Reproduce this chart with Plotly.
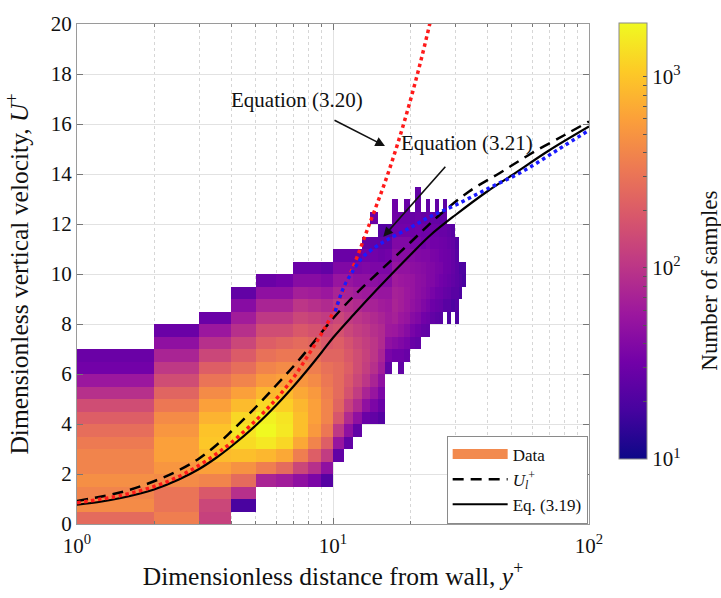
import numpy as np
import plotly.graph_objects as go

# ---------------- data ----------------
# 2-D histogram: x bins (y+) of width 1, U+ bins of width 0.5
x_edges = [1, 2, 3, 4, 5, 6, 7, 8, 9, 10, 11, 12, 13, 14, 15, 16, 17, 18, 19, 20,
           21, 22, 23, 24, 25, 26, 27, 28, 29, 30, 31, 32, 33]
u_edges = [0, 0.5, 1, 1.5, 2, 2.5, 3, 3.5, 4, 4.5, 5, 5.5, 6, 6.5, 7, 7.5, 8, 8.5,
           9, 9.5, 10, 10.5, 11, 11.5, 12, 12.5, 13, 13.5, 14]
# index of the lowest occupied U+ bin in each y+ column
col_start = [0, 0, 0, 1, 3, 3, 3, 3, 3, 5, 6, 7, 8, 8, 8, 12, 13, 12, 13, 14,
             14, 15, 15, 16, 16, 16, 17, 16, 17, 16, 18, 19]
# sample counts per column (from lowest occupied bin upward)
counts = [
    [259, 438, 394, 461, 394, 394, 337, 273, 210, 153, 91, 57, 32, 29],
    [355, 303, 303, 438, 513, 600, 600, 513, 438, 320, 233, 153, 106, 73, 48, 29],
    [124, 138, 189, 394, 600, 867, 1015, 963, 780, 600, 438, 303, 210, 138, 91, 57, 29],
    [19, 91, 259, 487, 914, 1320, 1466, 1253, 867, 600, 394, 273, 199, 138, 91, 63, 43, 26],
    [73, 355, 823, 1545, 1905, 1716, 1253, 823, 540, 394, 288, 210, 153, 106, 73, 48, 29],
    [63, 259, 667, 1253, 1545, 1466, 1127, 867, 600, 438, 320, 233, 153, 106, 73, 48, 32],
    [48, 138, 355, 667, 914, 914, 823, 667, 513, 394, 320, 259, 189, 138, 101, 66, 43, 29],
    [37, 91, 210, 394, 540, 600, 600, 540, 438, 355, 288, 233, 170, 124, 91, 63, 43, 29],
    [22, 48, 112, 210, 320, 394, 394, 355, 320, 288, 233, 189, 153, 112, 82, 57, 39, 26],
    [26, 54, 106, 180, 233, 259, 259, 259, 233, 210, 170, 138, 101, 73, 54, 39, 29],
    [26, 48, 82, 124, 170, 189, 210, 189, 170, 138, 112, 91, 70, 54, 39, 29],
    [26, 48, 82, 112, 138, 153, 153, 138, 118, 101, 82, 63, 48, 37, 29],
    [29, 48, 73, 101, 118, 124, 118, 106, 91, 73, 60, 48, 39, 32, 26],
    [26, 37, 54, 73, 91, 101, 101, 91, 82, 70, 57, 46, 37, 32, 26, 0, 29],
    [22, 29, 37, 48, 63, 73, 82, 82, 73, 63, 54, 43, 37, 30, 26, 22],
    [26, 35, 48, 60, 63, 60, 54, 43, 37, 32, 26, 22],
    [31, 43, 58, 69, 73, 69, 62, 53, 45, 39, 32, 31, 30],
    [26, 31, 39, 50, 58, 65, 65, 58, 50, 43, 39, 32, 30],
    [28, 35, 43, 53, 58, 58, 55, 50, 43, 39, 32, 30, 28],
    [28, 35, 43, 50, 53, 53, 47, 43, 36, 31, 28],
    [26, 31, 39, 45, 47, 47, 45, 40, 36, 32, 30, 27, 26],
    [27, 32, 39, 43, 45, 43, 39, 32, 30, 27],
    [26, 30, 35, 39, 40, 40, 39, 35, 31, 28, 26],
    [26, 30, 35, 39, 39, 36, 32, 30, 27],
    [24, 28, 31, 35, 36, 35, 32, 30, 27, 26],
    [23, 27, 30, 32, 35, 32, 31, 28, 26],
    [23, 27, 30, 31, 31, 30, 28, 26, 24],
    [20, 23, 26, 28, 30, 30, 28, 26],
    [20, 23, 26, 27, 27, 26, 23],
    [20, 22, 23, 24, 24, 23, 22],
    [20, 22, 20],
    [19, 20],
]

# model curves
ul_x = [1, 1.5, 2, 2.5, 3, 3.5, 4, 5, 6, 7, 8, 9, 10, 12, 15, 20, 26, 34, 45, 59,
        80, 100]
ul_u = [0.92, 1.28, 1.71, 2.15, 2.62, 3.15, 3.7, 4.68, 5.55, 6.3, 7.0, 7.65, 8.22,
        9.1, 10.05, 11.25, 12.35, 13.3, 14.05, 14.8, 15.55, 16.1]
eq19_x = [1, 1.25, 1.5, 1.75, 2, 2.5, 3, 3.5, 4, 5, 6, 7, 8, 9, 10, 12, 15, 20, 24,
          30, 40, 50, 70, 100]
eq19_u = [0.77, 0.9, 1.05, 1.21, 1.38, 1.78, 2.2, 2.65, 3.1, 3.95, 4.75, 5.5, 6.2,
          6.85, 7.45, 8.36, 9.43, 10.75, 11.55, 12.35, 13.3, 13.95, 14.95, 15.9]
eq20_x = [1, 1.5, 2, 2.5, 3, 3.5, 4, 5, 6, 7, 8, 9, 10, 12, 14, 16, 18, 20, 22, 24,
          25]
eq20_u = [0.85, 1.15, 1.5, 1.9, 2.35, 2.8, 3.25, 4.15, 5.0, 5.85, 6.75, 7.6, 8.45,
          10.3, 12.1, 13.7, 15.3, 16.9, 18.5, 20.1, 20.9]
eq21_x = [10.2, 11, 12, 13, 14.5, 16.5, 20, 24, 30, 40, 55, 75, 100]
eq21_u = [8.5, 9.45, 10.15, 10.65, 11.05, 11.4, 11.85, 12.3, 12.75, 13.4, 14.1,
          14.95, 15.75]

cb_min, cb_max = 1.0, 3.28   # log10 colour limits

# ---------------- build heat-map matrix ----------------
n_rows = len(u_edges) - 1
n_cols = len(x_edges) - 1
z = [[None] * n_cols for _ in range(n_rows)]
for c, (s, col) in enumerate(zip(col_start, counts)):
    for i, v in enumerate(col):
        if v > 0:
            z[s + i][c] = float(np.log10(v))

SERIF = "Liberation Serif"
INK = "#111"

fig = go.Figure()
fig.add_trace(go.Heatmap(
    x=x_edges, y=u_edges, z=z, colorscale="Plasma", zmin=cb_min, zmax=cb_max,
    showscale=True, hoverinfo="skip", showlegend=False,
    colorbar=dict(
        x=1.0586, xanchor="left", xpad=0, y=1.002, yanchor="top", ypad=0,
        len=0.871, lenmode="fraction", thickness=28,
        outlinecolor="#8a8a8a", outlinewidth=1,
        tickmode="array",
        tickvals=[float(np.log10(v)) for v in
                  [10, 20, 30, 40, 50, 60, 70, 80, 90, 100, 200, 300, 400, 500,
                   600, 700, 800, 900, 1000]],
        ticktext=["10<sup>1</sup>"] + [""] * 8 + ["10<sup>2</sup>"] + [""] * 8 +
                 ["10<sup>3</sup>"],
        ticks="inside", ticklen=4, tickcolor="#555",
        tickfont=dict(family=SERIF, size=21, color=INK),
    ),
))

# legend proxy for the histogram
fig.add_trace(go.Scatter(x=[None], y=[None], mode="lines", name="Data",
                         line=dict(color="#f28a4e", width=16)))
fig.add_trace(go.Scatter(x=ul_x, y=ul_u, mode="lines",
                         name="<i>U</i><sub><i>l</i></sub><sup>+</sup>",
                         line=dict(color="black", width=2.5, dash="11px,7px",
                                   shape="spline")))
fig.add_trace(go.Scatter(x=eq19_x, y=eq19_u, mode="lines", name="Eq. (3.19)",
                         line=dict(color="black", width=2.2, shape="spline")))
fig.add_trace(go.Scatter(x=eq20_x, y=eq20_u, mode="lines", name="Equation (3.20)",
                         showlegend=False,
                         line=dict(color="#ff1a1a", width=3.5, dash="dot",
                                   shape="spline")))
fig.add_trace(go.Scatter(x=eq21_x, y=eq21_u, mode="lines", name="Equation (3.21)",
                         showlegend=False,
                         line=dict(color="#1a1aff", width=3.5, dash="dot",
                                   shape="spline")))

axis_common = dict(
    showline=True, linecolor="#9a9a9a", linewidth=1, mirror="ticks",
    ticks="inside", tickcolor="#777", zeroline=False,
    showgrid=True, gridcolor="#e2e2e2", gridwidth=1,
    tickfont=dict(family=SERIF, size=21, color=INK),
)

minor_x = [2, 3, 4, 5, 6, 7, 8, 9, 20, 30, 40, 50, 60, 70, 80, 90]
fig.update_xaxes(
    type="log", range=[0, 2], tickmode="array", tickvals=[1, 10, 100],
    ticktext=["10<sup>0</sup>", "10<sup>1</sup>", "10<sup>2</sup>"], ticklen=6,
    ticklabelstandoff=3,
    minor=dict(tickmode="array", tickvals=minor_x, ticks="inside", ticklen=3,
               tickcolor="#777", showgrid=True, gridcolor="#d6d6d6",
               griddash="dot", gridwidth=1),
    title=dict(text="Dimensionless distance from wall, <i>y</i><sup>+</sup>",
               font=dict(family=SERIF, size=25.5, color=INK), standoff=8),
    **axis_common)
fig.update_yaxes(
    range=[0, 20], dtick=2, ticklen=6,
    title=dict(text="Dimensionless vertical velocity, <i>U</i><sup>+</sup>",
               font=dict(family=SERIF, size=25.5, color=INK), standoff=14),
    **axis_common)

# colour-bar title
fig.add_annotation(x=1.262, y=0.486, xref="paper", yref="paper",
                   text="Number of samples", textangle=-90, showarrow=False,
                   font=dict(family=SERIF, size=23, color=INK))

# annotations (text + arrows)
ann_font = dict(family=SERIF, size=21, color=INK)
fig.add_annotation(x=0.859, y=16.98, xref="x", yref="y", text="Equation (3.20)",
                   showarrow=False, font=ann_font)
fig.add_annotation(x=1.523, y=15.25, xref="x", yref="y", text="Equation (3.21)",
                   showarrow=False, font=ann_font)
fig.add_annotation(x=1.203, y=15.12, xref="x", yref="y", ax=1.0, ay=16.18,
                   axref="x", ayref="y", text="", showarrow=True, arrowhead=2,
                   arrowsize=1.2, arrowwidth=1.6, arrowcolor=INK)
fig.add_annotation(x=1.1965, y=11.49, xref="x", yref="y", ax=1.444, ay=14.35,
                   axref="x", ayref="y", text="", showarrow=True, arrowhead=2,
                   arrowsize=1.2, arrowwidth=1.6, arrowcolor=INK)

fig.update_layout(
    width=721, height=598,
    margin=dict(l=77, r=132, t=12, b=74),
    paper_bgcolor="white", plot_bgcolor="white",
    font=dict(family=SERIF, color=INK),
    legend=dict(x=0.722, y=0.177, xanchor="left", yanchor="top",
                bgcolor="white", bordercolor="#8a8a8a", borderwidth=1,
                font=dict(family=SERIF, size=17, color=INK),
                itemwidth=55, tracegroupgap=0),
)

fig.write_html("out.html")
